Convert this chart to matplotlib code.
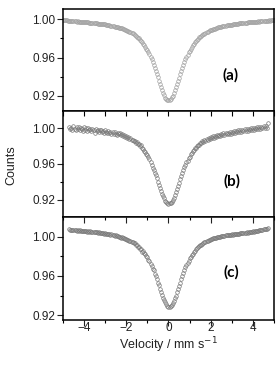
import numpy as np
import matplotlib
matplotlib.use("Agg")
from matplotlib import pyplot as plt
from matplotlib.ticker import MultipleLocator, FormatStrFormatter

plt.rcParams['font.family'] = ['Liberation Sans', 'DejaVu Sans']

# velocity channels (mm/s)
vel_a = np.round(np.arange(-5.0, 5.001, 0.05), 2)
vel_bc = np.round(np.arange(-4.7, 4.701, 0.05), 2)

# spectrum (a)
counts_a = [0.9991, 0.9987, 0.9988, 0.9985, 0.9986, 0.9983, 0.9984, 0.9980, 0.9982, 0.9979,
            0.9980, 0.9976, 0.9978, 0.9974, 0.9976, 0.9972, 0.9973, 0.9970, 0.9972, 0.9968,
            0.9970, 0.9966, 0.9968, 0.9964, 0.9965, 0.9962, 0.9963, 0.9959, 0.9960, 0.9957,
            0.9959, 0.9955, 0.9956, 0.9952, 0.9953, 0.9949, 0.9950, 0.9946, 0.9947, 0.9943,
            0.9944, 0.9940, 0.9940, 0.9935, 0.9936, 0.9931, 0.9932, 0.9927, 0.9927, 0.9922,
            0.9922, 0.9917, 0.9916, 0.9911, 0.9910, 0.9905, 0.9903, 0.9897, 0.9895, 0.9889,
            0.9886, 0.9879, 0.9876, 0.9868, 0.9864, 0.9856, 0.9851, 0.9842, 0.9836, 0.9825,
            0.9818, 0.9806, 0.9798, 0.9784, 0.9774, 0.9758, 0.9745, 0.9727, 0.9712, 0.9690,
            0.9674, 0.9652, 0.9632, 0.9606, 0.9582, 0.9552, 0.9525, 0.9492, 0.9462, 0.9426,
            0.9394, 0.9357, 0.9324, 0.9289, 0.9260, 0.9230, 0.9207, 0.9184, 0.9171, 0.9160,
            0.9157,
            0.9162, 0.9169, 0.9186, 0.9205, 0.9232, 0.9258, 0.9291, 0.9322, 0.9359, 0.9392,
            0.9429, 0.9460, 0.9494, 0.9523, 0.9554, 0.9580, 0.9608, 0.9630, 0.9654, 0.9672,
            0.9693, 0.9710, 0.9729, 0.9743, 0.9760, 0.9772, 0.9786, 0.9796, 0.9808, 0.9816,
            0.9827, 0.9834, 0.9844, 0.9849, 0.9858, 0.9862, 0.9870, 0.9874, 0.9881, 0.9884,
            0.9891, 0.9893, 0.9899, 0.9901, 0.9907, 0.9908, 0.9913, 0.9914, 0.9919, 0.9920,
            0.9925, 0.9925, 0.9930, 0.9930, 0.9934, 0.9934, 0.9938, 0.9938, 0.9942, 0.9942,
            0.9946, 0.9945, 0.9949, 0.9948, 0.9952, 0.9951, 0.9955, 0.9954, 0.9958, 0.9957,
            0.9960, 0.9959, 0.9963, 0.9962, 0.9965, 0.9964, 0.9967, 0.9966, 0.9969, 0.9968,
            0.9971, 0.9970, 0.9973, 0.9972, 0.9975, 0.9974, 0.9977, 0.9976, 0.9979, 0.9978,
            0.9981, 0.9980, 0.9983, 0.9982, 0.9985, 0.9984, 0.9987, 0.9986, 0.9989, 0.9990]

# spectrum (b)
counts_b = [1.0012, 0.9986, 1.0003, 0.9978, 1.0018, 0.9993, 0.9982, 1.0009, 0.9990, 1.0015,
            0.9979, 1.0004, 0.9988, 0.9971, 1.0010, 0.9983, 0.9996, 0.9969, 1.0002, 0.9980,
            0.9991, 0.9963, 0.9985, 0.9974, 0.9950, 0.9993, 0.9968, 0.9981, 0.9959, 0.9976,
            0.9983, 0.9952, 0.9969, 0.9946, 0.9975, 0.9958, 0.9940, 0.9966, 0.9949, 0.9961,
            0.9938, 0.9957, 0.9930, 0.9951, 0.9935, 0.9922, 0.9948, 0.9929, 0.9940, 0.9918,
            0.9931, 0.9908, 0.9921, 0.9897, 0.9915, 0.9892, 0.9903, 0.9880, 0.9891, 0.9872,
            0.9870, 0.9851, 0.9858, 0.9838, 0.9843, 0.9822, 0.9825, 0.9800, 0.9806, 0.9782,
            0.9768, 0.9745, 0.9738, 0.9708, 0.9700, 0.9672, 0.9650, 0.9622, 0.9590, 0.9560,
            0.9535, 0.9500, 0.9472, 0.9438, 0.9400, 0.9365, 0.9331, 0.9300, 0.9270, 0.9242,
            0.9218, 0.9190, 0.9180, 0.9166, 0.9152, 0.9160, 0.9168, 0.9180, 0.9200, 0.9225,
            0.9250, 0.9285, 0.9318, 0.9356, 0.9392, 0.9430, 0.9462, 0.9500, 0.9530, 0.9562,
            0.9588, 0.9618, 0.9638, 0.9668, 0.9680, 0.9708, 0.9718, 0.9745, 0.9752, 0.9778,
            0.9782, 0.9800, 0.9815, 0.9812, 0.9838, 0.9830, 0.9855, 0.9848, 0.9869, 0.9858,
            0.9882, 0.9868, 0.9890, 0.9877, 0.9899, 0.9884, 0.9906, 0.9893, 0.9915, 0.9898,
            0.9921, 0.9906, 0.9928, 0.9910, 0.9935, 0.9918, 0.9940, 0.9922, 0.9946, 0.9929,
            0.9950, 0.9933, 0.9956, 0.9938, 0.9960, 0.9942, 0.9965, 0.9948, 0.9969, 0.9952,
            0.9974, 0.9955, 0.9978, 0.9960, 0.9982, 0.9964, 0.9986, 0.9968, 0.9990, 0.9971,
            0.9993, 0.9975, 0.9996, 0.9979, 1.0000, 0.9983, 1.0004, 0.9986, 1.0008, 0.9990,
            1.0012, 0.9993, 1.0016, 0.9997, 1.0019, 1.0001, 1.0022, 1.0006, 1.0060]

# spectrum (c)
counts_c = [1.0072, 1.0066, 1.0070, 1.0064, 1.0068, 1.0062, 1.0066, 1.0061, 1.0064, 1.0059,
            1.0063, 1.0057, 1.0061, 1.0055, 1.0059, 1.0053, 1.0057, 1.0051, 1.0055, 1.0049,
            1.0053, 1.0047, 1.0051, 1.0045, 1.0049, 1.0043, 1.0046, 1.0040, 1.0043, 1.0037,
            1.0041, 1.0034, 1.0038, 1.0031, 1.0035, 1.0027, 1.0031, 1.0023, 1.0027, 1.0019,
            1.0024, 1.0014, 1.0019, 1.0009, 1.0014, 1.0003, 1.0007, 0.9996, 0.9999, 0.9988,
            0.9993, 0.9981, 0.9985, 0.9972, 0.9976, 0.9963, 0.9966, 0.9952, 0.9955, 0.9940,
            0.9946, 0.9930, 0.9932, 0.9914, 0.9916, 0.9896, 0.9895, 0.9874, 0.9871, 0.9848,
            0.9853, 0.9830, 0.9826, 0.9798, 0.9791, 0.9762, 0.9752, 0.9718, 0.9704, 0.9668,
            0.9655, 0.9622, 0.9598, 0.9570, 0.9532, 0.9505, 0.9466, 0.9440, 0.9406, 0.9380,
            0.9352, 0.9330, 0.9310, 0.9296, 0.9285, 0.9282, 0.9291, 0.9300, 0.9323, 0.9343,
            0.9373, 0.9400, 0.9436, 0.9465, 0.9500, 0.9530, 0.9566, 0.9594, 0.9628, 0.9655,
            0.9686, 0.9708, 0.9735, 0.9755, 0.9777, 0.9793, 0.9813, 0.9826, 0.9844, 0.9855,
            0.9871, 0.9880, 0.9894, 0.9902, 0.9913, 0.9919, 0.9929, 0.9934, 0.9943, 0.9947,
            0.9955, 0.9958, 0.9965, 0.9967, 0.9974, 0.9975, 0.9981, 0.9982, 0.9988, 0.9988,
            0.9994, 0.9994, 0.9999, 0.9999, 1.0004, 1.0003, 1.0008, 1.0007, 1.0012, 1.0011,
            1.0016, 1.0014, 1.0019, 1.0017, 1.0022, 1.0020, 1.0025, 1.0023, 1.0028, 1.0026,
            1.0031, 1.0029, 1.0034, 1.0032, 1.0037, 1.0035, 1.0040, 1.0038, 1.0043, 1.0041,
            1.0046, 1.0044, 1.0049, 1.0047, 1.0052, 1.0051, 1.0056, 1.0055, 1.0060, 1.0059,
            1.0064, 1.0063, 1.0068, 1.0068, 1.0073, 1.0075, 1.0079, 1.0082, 1.0092]

panel_labels = ['(a)', '(b)', '(c)']

fig = plt.figure(figsize=(2.76, 3.66), dpi=100)
left, width = 0.228, 0.765
ax_a = fig.add_axes([left, 0.6967, width, 0.2787])
ax_b = fig.add_axes([left, 0.4071, width, 0.2896])
ax_c = fig.add_axes([left, 0.1270, width, 0.2801])

ax_a.plot(vel_a, counts_a, 'o', ms=2.6, mfc='none', mec='#a0a0a0', mew=0.5)
ax_b.plot(vel_bc, counts_b, 'o', ms=2.6, mfc='none', mec='#777777', mew=0.5)
ax_c.plot(vel_bc, counts_c, 'o', ms=2.6, mfc='none', mec='#777777', mew=0.5)

ax_a.set_ylim(0.9044, 1.0104)
ax_b.set_ylim(0.9008, 1.019)
ax_c.set_ylim(0.9156, 1.0199)

label_pos = [(2.95, 0.9418), (3.03, 0.9407), (2.98, 0.9641)]

for i, ax in enumerate([ax_a, ax_b, ax_c]):
    ax.set_xlim(-5, 5)
    ax.yaxis.set_major_locator(MultipleLocator(0.04))
    ax.yaxis.set_minor_locator(MultipleLocator(0.02))
    ax.yaxis.set_major_formatter(FormatStrFormatter('%.2f'))
    ax.tick_params(axis='y', which='major', direction='out', length=4, width=0.8,
                   labelsize=8.5, pad=1.5, colors='#222222')
    ax.tick_params(axis='y', which='minor', direction='out', length=2.5, width=0.8)
    ax.xaxis.set_major_locator(MultipleLocator(2))
    ax.xaxis.set_minor_locator(MultipleLocator(1))
    for sp in ax.spines.values():
        sp.set_linewidth(1.1)
    ax.text(label_pos[i][0], label_pos[i][1], panel_labels[i], fontsize=11,
            fontweight='bold', ha='center', va='center', family=['Lato', 'DejaVu Sans'])
    if i == 0:
        ax.tick_params(axis='x', which='both', bottom=False, top=False, labelbottom=False)
    else:
        ax.tick_params(axis='x', which='both', top=True, bottom=(i == 2),
                       labelbottom=(i == 2))
        ax.tick_params(axis='x', which='both', direction='in', length=3.5, width=0.8)

# bottom ticks of (c) point outward
ax_c.tick_params(axis='x', which='major', length=4, width=0.8, labelsize=8.5, pad=2,
                 colors='#222222')
ax_c.tick_params(axis='x', which='minor', length=2.5, width=0.8)
for t in ax_c.xaxis.get_major_ticks() + ax_c.xaxis.get_minor_ticks():
    t.tick1line.set_marker(3)
ax_c.set_xlabel('Velocity / mm s$^{-1}$', fontsize=9, labelpad=1, color='#222222')

fig.text(0.04, 0.55, 'Counts', rotation=90, fontsize=9, ha='center', va='center',
         color='#222222')

plt.savefig('out.png', dpi=100)
